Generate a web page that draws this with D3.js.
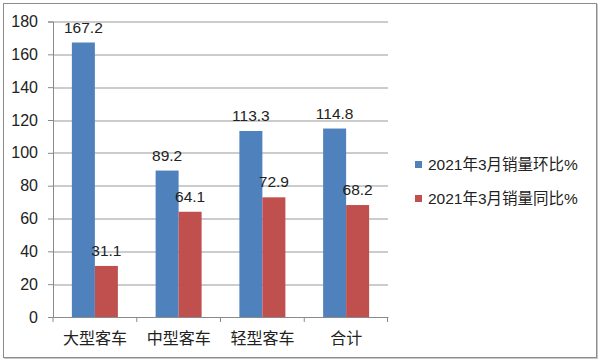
<!DOCTYPE html>
<html>
<head>
<meta charset="utf-8">
<script src="https://cdn.jsdelivr.net/npm/d3@7"></script>
<style>
  body { margin: 0; background: #fff; }
  svg { display: block; font-family: "Liberation Sans", "Noto Sans CJK SC", sans-serif; }
</style>
</head>
<body>
<div id="graf"></div>
<script>
// datos
categorias = ['大型客车', '中型客车', '轻型客车', '合计']
series = ['2021年3月销量环比%', '2021年3月销量同比%']
huanbi = [167.2, 89.2, 113.3, 114.8]
tongbi = [31.1, 64.1, 72.9, 68.2]
yTicks = [0, 20, 40, 60, 80, 100, 120, 140, 160, 180]

ancho_total = 600
alto_total = 361
margins = { top: 21.5, left: 53, right: 212, bottom: 44 }
ancho = ancho_total - margins.left - margins.right
alto = alto_total - margins.top - margins.bottom

svg = d3.select('#graf').append('svg')
  .attr('width', ancho_total)
  .attr('height', alto_total)

// borde exterior
svg.append('rect')
  .attr('x', 3.5).attr('y', 3.5)
  .attr('width', 593).attr('height', 354)
  .attr('fill', 'none')
  .attr('stroke', '#8c8c8c')
  .attr('stroke-width', 1)
svg.append('line')
  .attr('x1', 597.5).attr('x2', 597.5).attr('y1', 4).attr('y2', 359)
  .attr('stroke', '#c8c8c8')
svg.append('line')
  .attr('x1', 4).attr('x2', 598).attr('y1', 358.5).attr('y2', 358.5)
  .attr('stroke', '#c8c8c8')

g = svg.append('g')
  .attr('transform', `translate(${margins.left}, ${margins.top})`)

// escaladores
x = d3.scaleBand().domain(categorias).range([0, ancho]).paddingInner(0).paddingOuter(0)
y = d3.scaleLinear().domain([0, 180]).range([alto, 0])
color = d3.scaleOrdinal().domain(series).range(['#4F81BD', '#C0504D'])
barW = 23
x1 = d3.scaleBand().domain(series).range([x.bandwidth() / 2 - barW, x.bandwidth() / 2 + barW])

// rejilla
g.selectAll('.grid')
  .data(yTicks.filter(d => d > 0))
  .enter().append('line')
  .attr('x1', 0).attr('x2', ancho)
  .attr('y1', d => Math.round(y(d)) + 0.5)
  .attr('y2', d => Math.round(y(d)) + 0.5)
  .attr('stroke', '#999')
  .attr('stroke-width', 1)

// barras
filas = categorias.map((c, i) => ({ cat: c, valores: [huanbi[i], tongbi[i]] }))
grupos = g.selectAll('.grupo')
  .data(filas)
  .enter().append('g')
  .attr('transform', d => `translate(${x(d.cat)}, 0)`)

grupos.selectAll('rect')
  .data(d => d.valores.map((v, j) => ({ serie: series[j], valor: v })))
  .enter().append('rect')
  .attr('x', d => x1(d.serie))
  .attr('width', x1.bandwidth())
  .attr('y', d => y(d.valor))
  .attr('height', d => alto - y(d.valor))
  .attr('fill', d => color(d.serie))

grupos.selectAll('text')
  .data(d => d.valores.map((v, j) => ({ serie: series[j], valor: v })))
  .enter().append('text')
  .attr('x', d => x1(d.serie) + x1.bandwidth() / 2)
  .attr('y', d => y(d.valor) - 10)
  .attr('text-anchor', 'middle')
  .attr('font-size', 15.5)
  .attr('fill', '#222')
  .text(d => d.valor.toFixed(1))

// ejes
yAxis = g.append('g')
  .call(d3.axisLeft(y).tickValues(yTicks).tickSize(5).tickPadding(10))
xAxis = g.append('g')
  .attr('transform', `translate(0, ${alto})`)
  .call(d3.axisBottom(x).tickSize(0).tickPadding(16))

xAxis.selectAll('.tick').append('line')
  .attr('x1', -x.bandwidth() / 2).attr('x2', -x.bandwidth() / 2)
  .attr('y1', 0).attr('y2', 5)
  .attr('stroke', '#8a8a8a')
xAxis.append('line')
  .attr('x1', ancho - 0.5).attr('x2', ancho - 0.5)
  .attr('y1', 0).attr('y2', 5)
  .attr('stroke', '#8a8a8a')

g.selectAll('.domain').attr('stroke', '#8a8a8a')
yAxis.selectAll('.tick line').attr('stroke', '#8a8a8a')
yAxis.selectAll('text').attr('font-size', 16).attr('fill', '#222')
  .attr('font-family', '"Liberation Sans", sans-serif')
xAxis.selectAll('text').attr('font-size', 16).attr('fill', '#222')
  .attr('font-family', '"Noto Sans CJK SC", sans-serif')

// leyenda
leyenda = svg.append('g').attr('transform', 'translate(415, 161)')
items = leyenda.selectAll('g')
  .data(series)
  .enter().append('g')
  .attr('transform', (d, i) => `translate(0, ${i * 34})`)
items.append('rect')
  .attr('width', 7).attr('height', 7)
  .attr('fill', d => color(d))
items.append('text')
  .attr('x', 13).attr('y', 9)
  .attr('font-size', 15.5)
  .attr('fill', '#222')
  .text(d => d)
</script>
</body>
</html>
